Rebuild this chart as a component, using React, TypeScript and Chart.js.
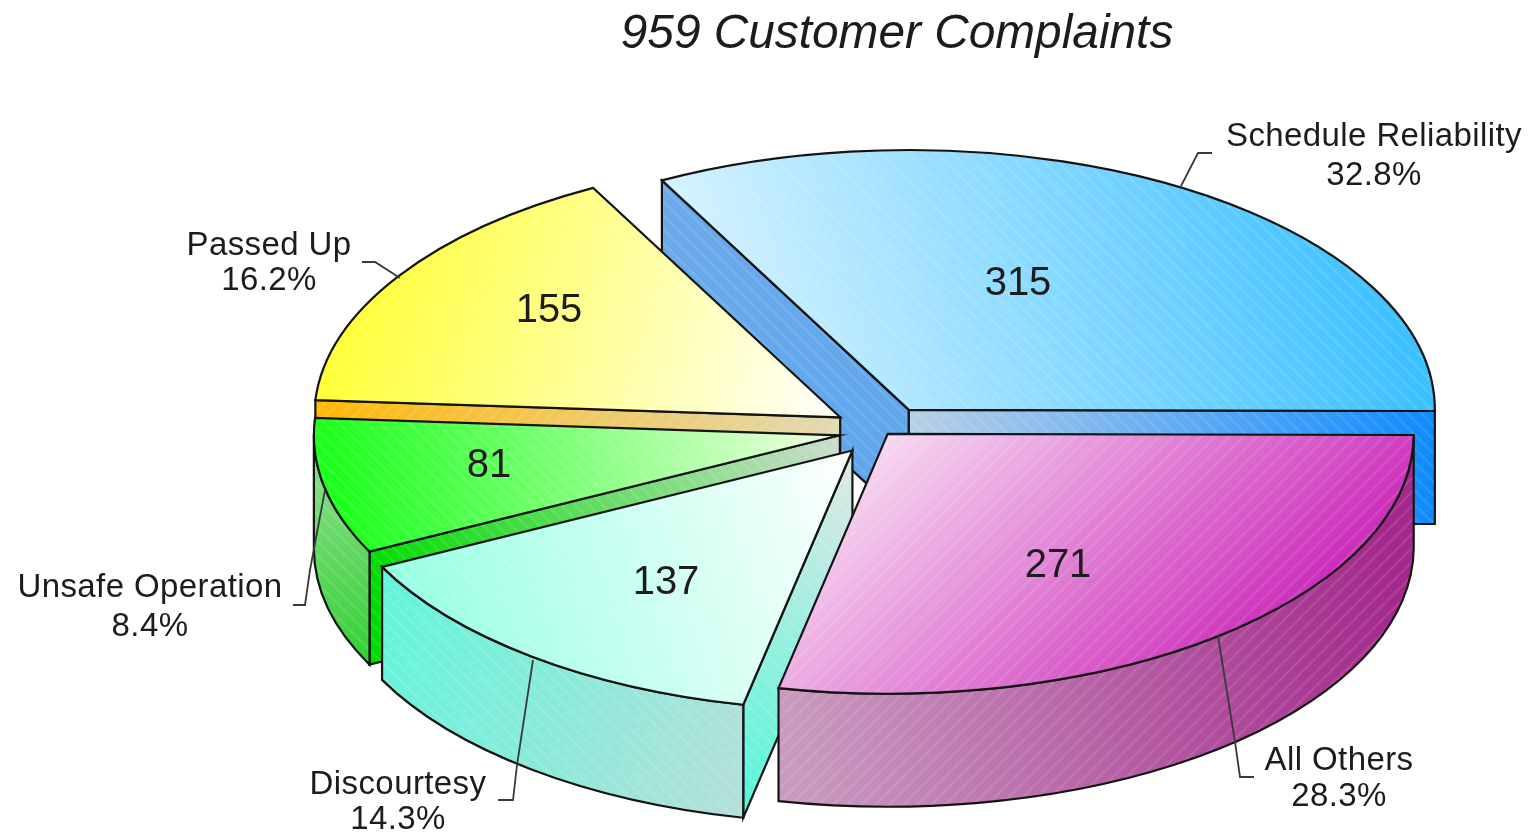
import React, { useEffect, useRef } from "react";
import { Chart, registerables } from "chart.js";

Chart.register(...registerables);

const titleText = "959 Customer Complaints";
const categories = ["Schedule Reliability", "All Others", "Discourtesy", "Unsafe Operation", "Passed Up"];
const complaints = [315, 271, 137, 81, 155];
const baseColors = ["#7fd8ff", "#e070d0", "#ccfff0", "#88ff66", "#ffff99"];
const explode = [50, 7.5, 50, 44, 51];

const TILT = 0.494;
const DEPTH = 113;
const drawOrder = [0, 4, 3, 2, 1];
const INK = "#141414";

type G = [number, number, number, number, string, string];
const none: G = [0, 0, 1, 0, "#000", "#000"];
const topGrad: G[] = [
  [690, 420, 1370, 210, "#e0f6ff", "#3cc0ff"],
  [900, 430, 1190, 720, "#f6d6f0", "#cc2cba"],
  [855, 455, 400, 600, "#ffffff", "#98ffe4"],
  [840, 420, 345, 520, "#f4ffe6", "#1eff1e"],
  [810, 420, 340, 270, "#fffff2", "#ffff30"],
];
const wallGrad: G[] = [
  none,
  [790, 720, 1400, 620, "#c89abe", "#a4288c"],
  [390, 620, 760, 760, "#66f4da", "#b4dfd9"],
  [320, 470, 370, 670, "#86dc86", "#30d030"],
  none,
];
const startFaceGrad: G[] = [
  [664, 181, 909, 523, "#6caaea", "#5ea6ec"],
  none,
  [745, 800, 853, 470, "#58f6da", "#dce8e4"],
  [375, 600, 840, 440, "#00dc00", "#ccdccc"],
  [316, 410, 840, 425, "#ffb808", "#e2d9b4"],
];
const endFaceGrad: G[] = [
  [909, 430, 1435, 470, "#b8cfe6", "#0e8aff"],
  none,
  none,
  none,
  none,
];
const hatchDir = [1, -1, 1, 1, -1];

// Annotation layout (screen placement of labels and leaders)
const valueSpots: [number, number][] = [[1018, 284], [1058, 566], [666, 583], [489, 466], [549, 311]];
const labelSpots: [number, number, number][] = [
  [1374, 146, 185],
  [1339, 770, 806],
  [398, 794, 829],
  [150, 597, 636],
  [269, 255, 290],
];
const leaders: [number, number][][] = [
  [[1181, 186], [1198, 153], [1212, 153]],
  [[1218, 636], [1235, 742], [1240, 777], [1254, 777]],
  [[533, 660], [517, 765], [513, 800], [498, 800]],
  [[325, 490], [310, 570], [305, 605], [293, 605]],
  [[400, 278], [375, 262], [362, 262]],
];

function hatch(ctx: CanvasRenderingContext2D, dir: number) {
  const t = document.createElement("canvas");
  t.width = 14;
  t.height = 14;
  const c = t.getContext("2d")!;
  c.strokeStyle = "rgba(255,255,255,0.1)";
  c.lineWidth = 2.5;
  for (const o of [-14, 0, 14]) {
    c.beginPath();
    if (dir > 0) {
      c.moveTo(o, 0);
      c.lineTo(o + 14, 14);
    } else {
      c.moveTo(o + 14, 0);
      c.lineTo(o, 14);
    }
    c.stroke();
  }
  return ctx.createPattern(t, "repeat")!;
}

function grad(ctx: CanvasRenderingContext2D, g: G) {
  const l = ctx.createLinearGradient(g[0], g[1], g[2], g[3]);
  l.addColorStop(0, g[4]);
  l.addColorStop(1, g[5]);
  return l;
}

const threeD = {
  id: "threeD",
  beforeDatasetsDraw(chart: any) {
    const ctx: CanvasRenderingContext2D = chart.ctx;
    const arcs = chart.getDatasetMeta(0).data;
    const total = complaints.reduce((a, b) => a + b, 0);

    const paint = (i: number, g: G) => {
      ctx.fillStyle = grad(ctx, g);
      ctx.fill();
      ctx.fillStyle = hatch(ctx, hatchDir[i]);
      ctx.fill();
      ctx.stroke();
    };

    ctx.save();
    ctx.strokeStyle = INK;
    ctx.lineWidth = 2.2;
    ctx.lineJoin = "miter";

    for (const i of drawOrder) {
      const el = arcs[i];
      const { x, y, startAngle: a1, endAngle: a2, outerRadius: R } = el;
      const mid = (a1 + a2) / 2;
      const ax = x + explode[i] * Math.cos(mid);
      const ay = y + explode[i] * Math.sin(mid) * TILT;
      const ry = R * TILT;
      const px = (a: number) => ax + R * Math.cos(a);
      const py = (a: number) => ay + ry * Math.sin(a);

      const face = (a: number, g: G) => {
        ctx.beginPath();
        ctx.moveTo(ax, ay);
        ctx.lineTo(px(a), py(a));
        ctx.lineTo(px(a), py(a) + DEPTH);
        ctx.lineTo(ax, ay + DEPTH);
        ctx.closePath();
        paint(i, g);
      };
      if (Math.cos(a1) < 0) face(a1, startFaceGrad[i]);
      if (Math.cos(a2) > 0) face(a2, endFaceGrad[i]);

      // Outer wall, only the part of the rim that faces the viewer
      const w1 = Math.atan2(Math.sin(a1), Math.cos(a1));
      const from = Math.max(w1, 0);
      const to = Math.min(w1 + (a2 - a1), Math.PI);
      if (to - from > 0.01) {
        ctx.beginPath();
        ctx.ellipse(ax, ay, R, ry, 0, from, to);
        ctx.lineTo(px(to), py(to) + DEPTH);
        ctx.ellipse(ax, ay + DEPTH, R, ry, 0, to, from, true);
        ctx.closePath();
        paint(i, wallGrad[i]);
      }

      // Top face: the library's arc squashed into the ellipse
      ctx.save();
      ctx.translate(ax, ay);
      ctx.scale(1, TILT);
      ctx.translate(-x, -y);
      el.draw(ctx);
      ctx.restore();

      ctx.beginPath();
      ctx.moveTo(ax, ay);
      ctx.ellipse(ax, ay, R, ry, 0, a1, a2);
      ctx.closePath();
      paint(i, topGrad[i]);
    }

    // Leaders
    ctx.strokeStyle = "#3a3a3a";
    ctx.lineWidth = 1.8;
    for (const l of leaders) {
      ctx.beginPath();
      l.forEach(([lx, ly], k) => (k ? ctx.lineTo(lx, ly) : ctx.moveTo(lx, ly)));
      ctx.stroke();
    }

    // Text
    ctx.textAlign = "center";
    ctx.textBaseline = "alphabetic";
    ctx.fillStyle = "#1c1c1c";
    ctx.font = "italic 47.8px 'Liberation Sans'";
    ctx.fillText(titleText, 897, 48);
    (ctx as any).letterSpacing = "0.4px";
    ctx.font = "33px 'Liberation Sans'";
    categories.forEach((name, i) => {
      const [cx, b1, b2] = labelSpots[i];
      ctx.fillText(name, cx, b1);
      ctx.fillText(((complaints[i] / total) * 100).toFixed(1) + "%", cx, b2);
    });
    (ctx as any).letterSpacing = "0px";
    ctx.font = "40px 'Liberation Sans'";
    ctx.textBaseline = "middle";
    complaints.forEach((v, i) => {
      ctx.fillText(String(v), valueSpots[i][0], valueSpots[i][1]);
    });
    ctx.restore();
    return false;
  },
};

export default function App() {
  const ref = useRef<HTMLCanvasElement>(null);
  useEffect(() => {
    const chart = new Chart(ref.current!, {
      type: "pie",
      data: {
        labels: categories,
        datasets: [{ data: complaints, backgroundColor: baseColors, borderWidth: 0 }],
      },
      options: {
        responsive: false,
        animation: false,
        rotation: -28,
        radius: 526,
        layout: { padding: { left: 236, top: 30 } },
        plugins: { legend: { display: false }, tooltip: { enabled: false }, title: { display: false } },
      },
      plugins: [threeD],
    } as any);
    return () => chart.destroy();
  }, []);
  return (
    <div style={{ position: "absolute", left: 0, top: 0, width: 1530, height: 832, background: "#fff" }}>
      <canvas ref={ref} width={1530} height={832} style={{ display: "block", filter: "blur(0.6px)" }} />
    </div>
  );
}
